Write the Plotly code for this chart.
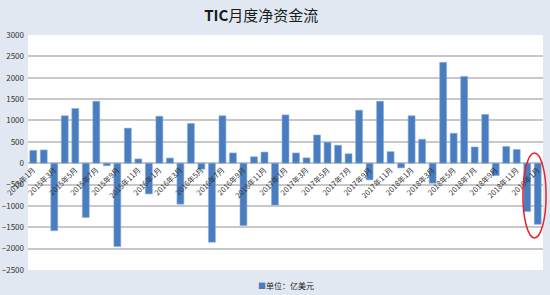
import plotly.graph_objects as go

months = [f"{y}年{m}月" for y in range(2015, 2019) for m in range(1, 13)] + ["2019年1月"]

flows = [
    300, 310, -1580, 1110, 1280, -1270, 1450, -60, -1950, 820, 100, -720,
    1100, 120, -960, 930, -140, -1850, 1110, 240, -1460, 150, 260, -980,
    1130, 240, 125, 660, 490, 420, 220, 1240, -390, 1450, 270, -110,
    1110, 560, -470, 2360, 700, 2030, 380, 1140, -290, 390, 320, -1130,
    -1430,
]

tick_labels = months[::2]
y_ticks = list(range(-2500, 3001, 500))
series_name = "单位：亿美元"
title_text = "<b>TIC</b>月度净资金流"

y_min, y_max = -2500, 3000
bar_color = "#4a7dbf"

fig = go.Figure()
fig.add_trace(go.Bar(
    x=months, y=flows, name=series_name,
    marker=dict(color=bar_color, line=dict(color="#86aee0", width=0.6)),
    showlegend=False,
))

font_family = "Noto Sans CJK SC, Noto Sans, sans-serif"

fig.update_layout(
    width=550, height=295,
    margin=dict(l=28, r=7, t=35, b=25, autoexpand=False),
    paper_bgcolor="#e1e8f2",
    plot_bgcolor="#ffffff",
    bargap=0.34,
    font=dict(family=font_family, size=8, color="#333333"),
    title=dict(text=title_text, x=0.475, xanchor="center", y=0.945, yanchor="middle",
               yref="container", font=dict(size=15, color="#1a1a1a", family=font_family)),
    xaxis=dict(
        type="category", tickmode="array", tickvals=tick_labels, ticktext=tick_labels,
        tickangle=-45, showgrid=False, showline=False, ticks="",
        anchor="free", position=(0 - y_min) / (y_max - y_min),
        tickfont=dict(size=7.5, color="#333333"), range=[-0.5, len(months) - 0.5],
    ),
    yaxis=dict(
        range=[y_min, y_max], tickmode="array", tickvals=y_ticks,
        showgrid=True, gridcolor="#c8c8c8", gridwidth=1.5,
        zeroline=True, zerolinecolor="#c8c8c8", zerolinewidth=1.5,
        tickfont=dict(size=8, color="#333333"), ticks="", ticklabelstandoff=3,
    ),
    shapes=[dict(
        type="circle", xref="paper", yref="y",
        x0=0.961, x1=1.006, y0=-1750, y1=240,
        line=dict(color="#e8222a", width=1.5), fillcolor="rgba(0,0,0,0)",
    )],
    annotations=[dict(
        text=f"<span style='color:{bar_color}'>■</span>{series_name}",
        xref="paper", yref="paper", x=0.5, y=-0.064, xanchor="center", yanchor="middle",
        showarrow=False, font=dict(size=8, color="#222222"),
    )],
)

fig.write_html("out.html")
